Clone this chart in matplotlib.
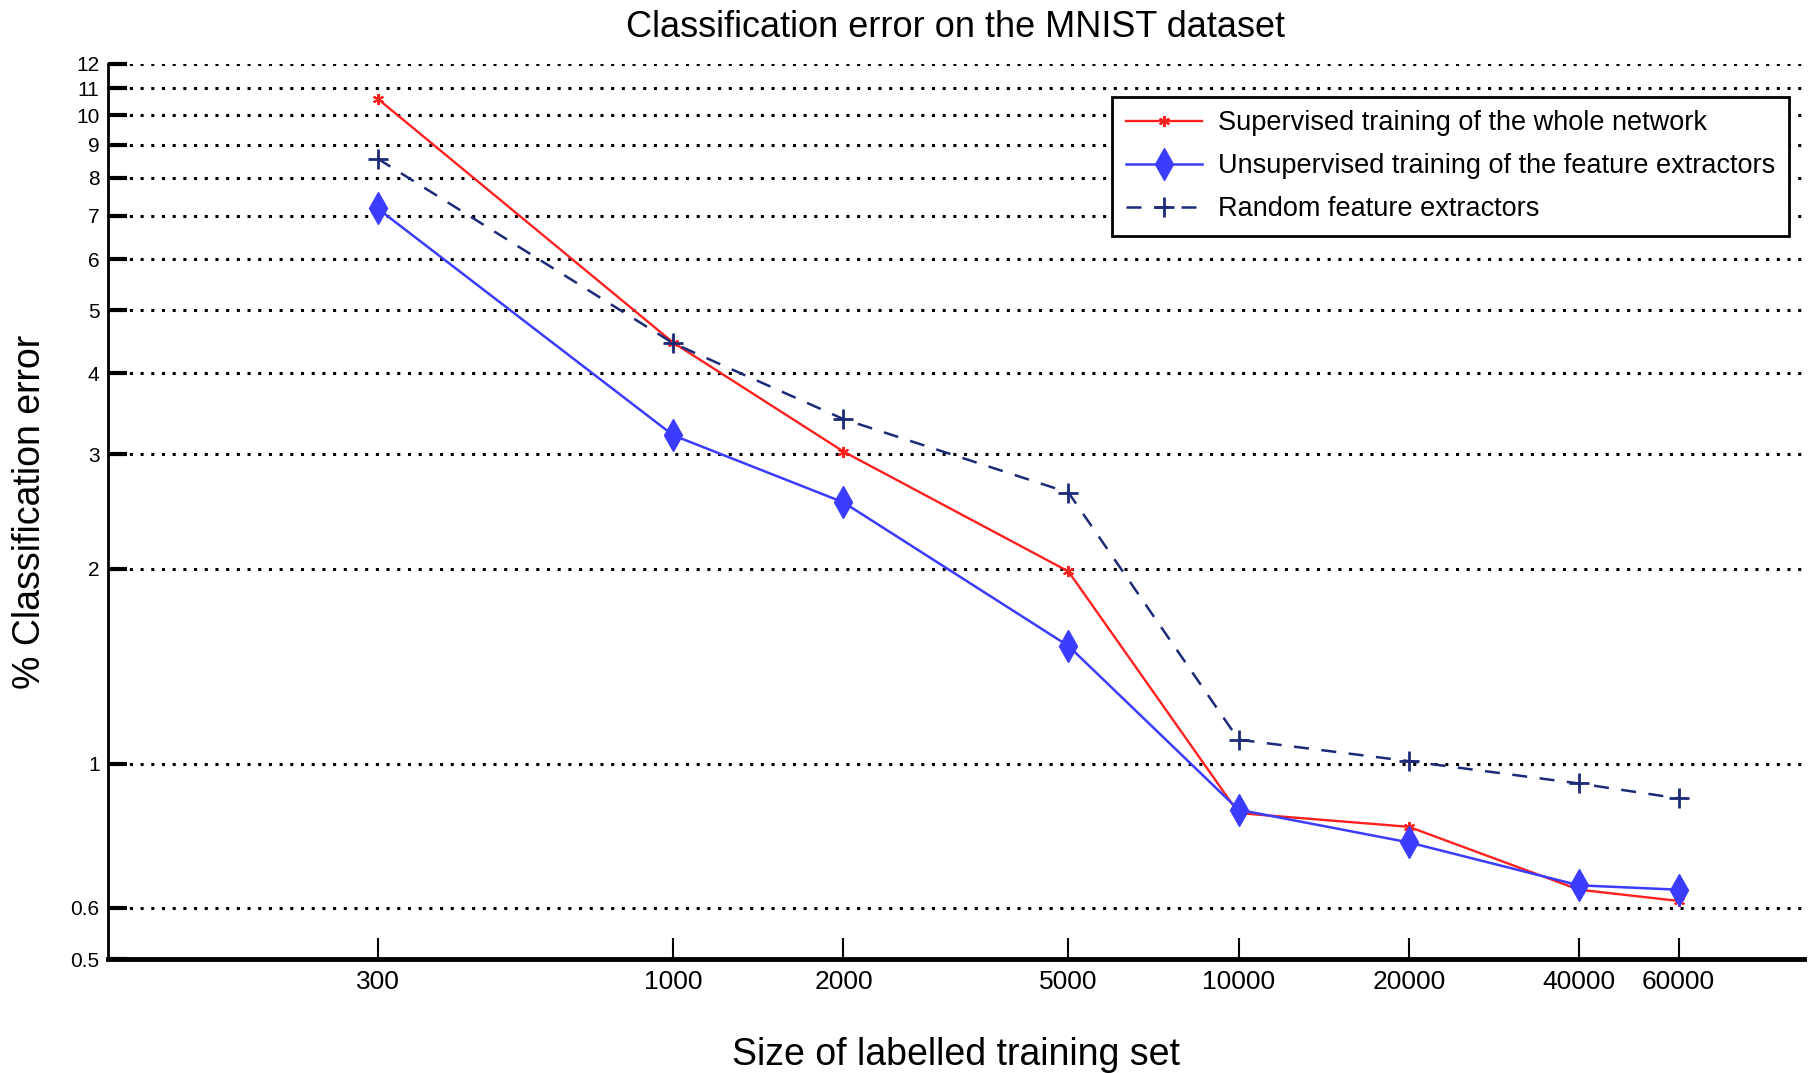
import matplotlib
matplotlib.use('Agg')
import matplotlib.pyplot as plt
from matplotlib.ticker import FixedLocator, NullLocator, FixedFormatter

plt.rcParams['font.family'] = ['Liberation Sans', 'DejaVu Sans']

# training set sizes
sizes = [300, 1000, 2000, 5000, 10000, 20000, 40000, 60000]
# % error
supervised = [10.6, 4.46, 3.03, 1.98, 0.84, 0.80, 0.64, 0.615]
unsupervised = [7.18, 3.21, 2.53, 1.52, 0.85, 0.757, 0.65, 0.64]
random_fe = [8.57, 4.45, 3.40, 2.62, 1.09, 1.01, 0.933, 0.885]

yticks = [0.5, 0.6, 1, 2, 3, 4, 5, 6, 7, 8, 9, 10, 11, 12]
ylabels = ['0.5', '0.6', '1', '2', '3', '4', '5', '6', '7', '8', '9', '10', '11', '12']

fig = plt.figure(figsize=(18.16, 10.73), dpi=100)
ax = fig.add_axes([0.0594, 0.106, 0.934, 0.8346])

ax.set_xscale('log')
ax.set_yscale('log')
ax.set_xlim(100, 100000)
ax.set_ylim(0.5, 12)

# dotted grid only at labelled y values
for y in yticks[1:]:
    ax.axhline(y, color='k', linestyle=(0, (1, 2.5)), linewidth=2.2, zorder=0)

ax.plot(sizes, supervised, color='#ff2020', linewidth=1.7, marker=(6, 2, 0),
        markersize=8, markeredgewidth=1.5, label='Supervised training of the whole network')
ax.plot(sizes, unsupervised, color='#3c3cff', linewidth=1.8, marker='d',
        markersize=16, markeredgewidth=1, label='Unsupervised training of the feature extractors')
ax.plot(sizes, random_fe, color='#1c2a78', linewidth=1.8, linestyle=(0, (6, 5)), marker='+',
        markersize=15, markeredgewidth=2, label='Random feature extractors')

ax.xaxis.set_major_locator(FixedLocator(sizes))
ax.xaxis.set_major_formatter(FixedFormatter([str(s) for s in sizes]))
ax.xaxis.set_minor_locator(NullLocator())
ax.yaxis.set_major_locator(FixedLocator(yticks))
ax.yaxis.set_major_formatter(FixedFormatter(ylabels))
ax.yaxis.set_minor_locator(NullLocator())

ax.tick_params(axis='x', direction='in', length=15, width=1.5, labelsize=19, pad=8)
ax.tick_params(axis='y', direction='in', length=14, width=3, labelsize=15, pad=6)

for s in ['top', 'right']:
    ax.spines[s].set_visible(False)
ax.spines['left'].set_linewidth(2)
ax.spines['bottom'].set_linewidth(3.5)

ax.set_title('Classification error on the MNIST dataset', fontsize=26, pad=19)
ax.set_xlabel('Size of labelled training set', fontsize=27, labelpad=31)
ax.set_ylabel('% Classification error', fontsize=27, labelpad=16)

leg = ax.legend(loc='upper right', bbox_to_anchor=(0.991, 0.963), borderaxespad=0,
                fontsize=19.5, fancybox=False, framealpha=1, edgecolor='k',
                handlelength=2.8, handletextpad=0.6, borderpad=0.5, labelspacing=0.62)
leg.get_frame().set_linewidth(2)

fig.savefig('out.png', dpi=100)
